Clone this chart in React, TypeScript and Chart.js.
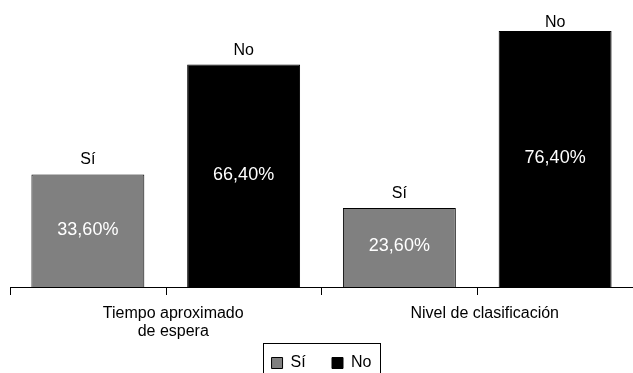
import React, { useEffect, useRef } from "react";
import { Chart, registerables } from "chart.js";

Chart.register(...registerables);

const categories: string[][] = [["Tiempo aproximado", "de espera"], ["Nivel de clasificación"]];
const seriesNames = ["Sí", "No"];
const siValues = [33.6, 23.6];
const noValues = [66.4, 76.4];
const seriesColors = ["#808080", "#000000"];
const valueMax = 80;

const FONT = "'Liberation Sans', Arial, Helvetica, sans-serif";

function fmt(v: number) {
  return v.toFixed(2).replace(".", ",") + "%";
}

const labelsPlugin = {
  id: "barLabels",
  afterDatasetsDraw(chart: any) {
    const ctx = chart.ctx;
    ctx.save();
    chart.data.datasets.forEach((ds: any, di: number) => {
      const meta = chart.getDatasetMeta(di);
      meta.data.forEach((bar: any, i: number) => {
        const { x, y, base } = bar.getProps(["x", "y", "base"], true);
        ctx.font = `16px ${FONT}`;
        ctx.fillStyle = "#000";
        ctx.textAlign = "center";
        ctx.textBaseline = "alphabetic";
        const nameY = Math.max(y - 10, chart.chartArea.top + 8);
        ctx.fillText(ds.label, x, nameY);
        ctx.font = `18px ${FONT}`;
        ctx.fillStyle = "#ffffff";
        ctx.textBaseline = "middle";
        ctx.fillText(fmt(ds.data[i]), x, (y + base) / 2 - 1);
      });
    });
    ctx.restore();
  },
  afterDraw(chart: any) {
    const ctx = chart.ctx;
    const xs = chart.scales.x;
    ctx.save();
    ctx.strokeStyle = "#000";
    ctx.lineWidth = 1;
    chart.data.labels.forEach((_: any, i: number) => {
      const px = Math.round(xs.getPixelForValue(i)) + 0.5;
      ctx.beginPath();
      ctx.moveTo(px, xs.top);
      ctx.lineTo(px, xs.top + 8);
      ctx.stroke();
    });
    const hb = chart.legend && chart.legend.legendHitBoxes;
    if (hb && hb.length) {
      const first = hb[0];
      const last = hb[hb.length - 1];
      const left = Math.round(first.left - 9) + 0.5;
      const right = Math.round(last.left + last.width + 9) + 0.5;
      const top = Math.round(first.top - 12) + 0.5;
      const bottom = Math.round(first.top + first.height + 14) + 0.5;
      ctx.strokeRect(left, top, right - left, bottom - top);
    }
    ctx.restore();
  },
};

export default function App() {
  const ref = useRef<HTMLCanvasElement | null>(null);
  useEffect(() => {
    if (!ref.current) return;
    const chart = new Chart(ref.current, {
      type: "bar",
      data: {
        labels: categories,
        datasets: [
          {
            label: seriesNames[0],
            data: siValues,
            backgroundColor: seriesColors[0],
            borderColor: "#000",
            borderWidth: 1,
            categoryPercentage: 1,
            barPercentage: 0.725,
          },
          {
            label: seriesNames[1],
            data: noValues,
            backgroundColor: seriesColors[1],
            borderColor: "#000",
            borderWidth: 1,
            categoryPercentage: 1,
            barPercentage: 0.725,
          },
        ],
      },
      options: {
        animation: false,
        responsive: false,
        devicePixelRatio: 1,
        layout: { padding: { top: 19, left: 10, right: 0, bottom: 0 } },
        scales: {
          x: {
            offset: true,
            grid: {
              display: true,
              offset: true,
              drawOnChartArea: false,
              drawTicks: true,
              tickLength: 8,
              color: "#000",
              lineWidth: 1,
            },
            border: { display: true, color: "#000", width: 1 },
            ticks: {
              color: "#000",
              font: { family: FONT, size: 16, lineHeight: 1.125 },
              padding: 10,
              labelOffset: 7.5,
              maxRotation: 0,
              autoSkip: false,
            },
            afterFit: (s: any) => {
              s.height = 55;
            },
          },
          y: { display: false, min: 0, max: valueMax },
        },
        plugins: {
          tooltip: { enabled: false },
          legend: {
            position: "bottom",
            labels: {
              boxWidth: 11,
              boxHeight: 11,
              padding: 13,
              color: "#000",
              font: { family: FONT, size: 16 },
              generateLabels: (c: any) => {
                const items = Chart.defaults.plugins.legend.labels.generateLabels(c);
                return items.map((it: any, i: number) =>
                  i < items.length - 1 ? { ...it, text: it.text + "\u00a0\u00a0\u00a0" } : it
                );
              },
            },
          },
        },
      },
      plugins: [labelsPlugin],
    } as any);
    return () => chart.destroy();
  }, []);
  return (
    <div style={{ position: "absolute", left: 0, top: 0, width: 633, height: 373, overflow: "hidden", background: "#fff" }}>
      <canvas ref={ref} width={633} height={381} style={{ display: "block" }} />
    </div>
  );
}
